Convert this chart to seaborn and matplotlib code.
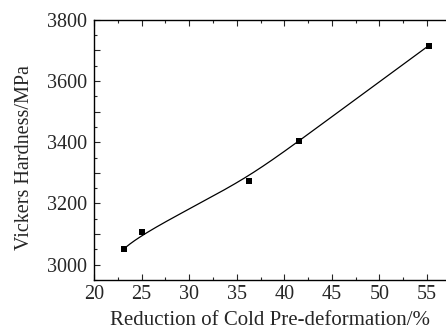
import numpy as np
import pandas as pd
import matplotlib
matplotlib.use("Agg")
import matplotlib.pyplot as plt
import seaborn as sns
from matplotlib.ticker import MultipleLocator, FuncFormatter

# data
reduction = [23.1, 25.0, 36.3, 41.5, 55.2]
hardness = [3050, 3106, 3272, 3405, 3716]

sns.set_style("ticks")
plt.rcParams['font.family'] = ['Liberation Serif', 'DejaVu Serif']


def bspline(px, py, n=200, k=3):
    # clamped B-spline using the points as control points (Origin style)
    px = np.asarray(px, float)
    py = np.asarray(py, float)
    m = len(px)
    knots = np.concatenate([np.zeros(k), np.linspace(0, 1, m - k + 1), np.ones(k)])
    t = np.linspace(0, 1, n)
    t[-1] = 1 - 1e-9

    def basis(i, kk, tt):
        if kk == 0:
            return ((knots[i] <= tt) & (tt < knots[i + 1])).astype(float)
        a = 0.0
        b = 0.0
        if knots[i + kk] != knots[i]:
            a = (tt - knots[i]) / (knots[i + kk] - knots[i]) * basis(i, kk - 1, tt)
        if knots[i + kk + 1] != knots[i + 1]:
            b = (knots[i + kk + 1] - tt) / (knots[i + kk + 1] - knots[i + 1]) * basis(i + 1, kk - 1, tt)
        return a + b

    B = np.array([basis(i, k, t) for i in range(m)])
    return B.T @ px, B.T @ py


cx, cy = bspline(reduction, hardness)
curve = pd.DataFrame({'x': cx, 'y': cy})
pts = pd.DataFrame({'x': reduction, 'y': hardness})

fig = plt.figure(figsize=(4.46, 3.36), dpi=100)
ax = fig.add_axes([0.211, 0.167, 0.789, 0.774])

sns.lineplot(data=curve, x='x', y='y', color='black', linewidth=0.9, sort=False, ax=ax)
sns.scatterplot(data=pts, x='x', y='y', marker='s', color='black', s=24, edgecolor='black', linewidth=0, ax=ax)

ax.set_xlim(20, 57)
ax.set_ylim(2950, 3800)
ax.xaxis.set_major_locator(MultipleLocator(5))
ax.xaxis.set_minor_locator(MultipleLocator(2.5))
ax.yaxis.set_major_locator(MultipleLocator(100))
ax.yaxis.set_minor_locator(MultipleLocator(50))
ax.yaxis.set_major_formatter(FuncFormatter(lambda v, p: f"{int(v)}" if int(round(v)) % 200 == 0 else ""))

ax.spines['right'].set_visible(False)
for s in ['left', 'bottom', 'top']:
    ax.spines[s].set_linewidth(1.0)
    ax.spines[s].set_color('black')

ax.tick_params(axis='both', which='major', direction='in', length=4.5, width=0.8, labelsize=14.5)
ax.tick_params(axis='y', which='major', pad=5)
ax.tick_params(axis='x', which='major', pad=4)
ax.tick_params(axis='both', which='minor', direction='in', length=2.2, width=0.8)
ax.tick_params(axis='x', which='both', top=True)
ax.tick_params(axis='y', which='both', right=False)

ax.set_xlabel('Reduction of Cold Pre-deformation/%', fontsize=15, labelpad=5)
ax.set_ylabel('Vickers Hardness/MPa', fontsize=14.5)
ax.yaxis.set_label_coords(-0.172, 0.47)

fig.savefig('out.png', dpi=100)
